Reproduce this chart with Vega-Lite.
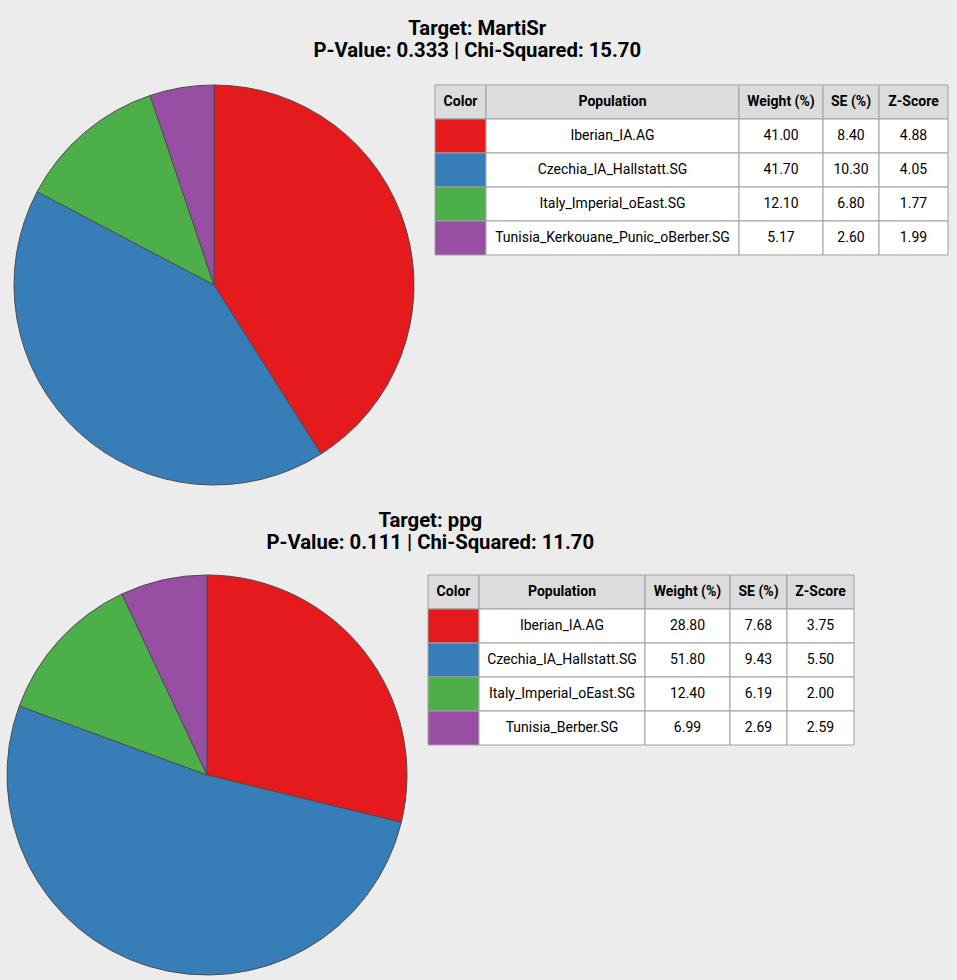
{
  "$schema": "https://vega.github.io/schema/vega-lite/v6.json",
  "background": "#ececec",
  "padding": {"left": 0, "top": 18, "right": 12, "bottom": 6},
  "config": {"view": {"stroke": null}, "font": "Roboto"},
  "datasets": {
    "martisr": [
      {"rank": 1, "population": "Iberian_IA.AG", "weight": 41.0, "se": 8.4, "z": 4.88},
      {"rank": 2, "population": "Czechia_IA_Hallstatt.SG", "weight": 41.7, "se": 10.3, "z": 4.05},
      {"rank": 3, "population": "Italy_Imperial_oEast.SG", "weight": 12.1, "se": 6.8, "z": 1.77},
      {"rank": 4, "population": "Tunisia_Kerkouane_Punic_oBerber.SG", "weight": 5.17, "se": 2.6, "z": 1.99}
    ],
    "ppg": [
      {"rank": 1, "population": "Iberian_IA.AG", "weight": 28.8, "se": 7.68, "z": 3.75},
      {"rank": 2, "population": "Czechia_IA_Hallstatt.SG", "weight": 51.8, "se": 9.43, "z": 5.5},
      {"rank": 3, "population": "Italy_Imperial_oEast.SG", "weight": 12.4, "se": 6.19, "z": 2.0},
      {"rank": 4, "population": "Tunisia_Berber.SG", "weight": 6.99, "se": 2.69, "z": 2.59}
    ]
  },
  "vconcat": [
    {
      "title": {
        "text": ["Target: MartiSr", "P-Value: 0.333 | Chi-Squared: 15.70"],
        "font": "Roboto", "fontSize": 20.3, "fontWeight": "bold", "color": "#000",
        "anchor": "middle", "lineHeight": 22, "offset": 22, "dx": 3
      },
      "spacing": 6,
      "hconcat": [
        {
          "width": 428, "height": 400,
          "data": {"name": "martisr"},
          "mark": {"type": "arc", "stroke": "#4d4d4d", "strokeWidth": 1},
          "encoding": {
            "theta": {"field": "weight", "type": "quantitative", "stack": true},
            "order": {"field": "rank"},
            "color": {
              "field": "population", "type": "nominal", "legend": null,
              "scale": {
                "domain": ["Iberian_IA.AG", "Czechia_IA_Hallstatt.SG", "Italy_Imperial_oEast.SG", "Tunisia_Kerkouane_Punic_oBerber.SG", "Tunisia_Berber.SG"],
                "range": ["#e41a1c", "#377eb8", "#4daf4a", "#984ea3", "#984ea3"]
              }
            }
          }
        },
        {
          "spacing": 0,
          "bounds": "flush",
          "hconcat": [
            {
              "width": 51, "height": 170,
              "data": {"name": "martisr"},
              "encoding": {"y": {"field": "rank", "type": "ordinal", "scale": {"domain": [0, 1, 2, 3, 4], "paddingInner": 0, "paddingOuter": 0}, "axis": null}},
              "layer": [
                {"transform": [{"filter": "datum.rank == 1"}], "mark": {"type": "rect", "fill": "#dcdcdc", "stroke": "#a0a0a0"}, "encoding": {"y": {"datum": 0, "type": "ordinal"}}},
                {"transform": [{"filter": "datum.rank == 1"}], "mark": {"type": "text", "fontSize": 14, "fontWeight": "bold", "color": "#000"}, "encoding": {"y": {"datum": 0, "type": "ordinal"}, "text": {"value": "Color"}}},
                {
                  "mark": {"type": "rect", "stroke": "#a0a0a0"},
                  "encoding": {
                    "fill": {
                      "field": "population", "type": "nominal", "legend": null,
                      "scale": {
                        "domain": ["Iberian_IA.AG", "Czechia_IA_Hallstatt.SG", "Italy_Imperial_oEast.SG", "Tunisia_Kerkouane_Punic_oBerber.SG", "Tunisia_Berber.SG"],
                        "range": ["#e41a1c", "#377eb8", "#4daf4a", "#984ea3", "#984ea3"]
                      }
                    }
                  }
                }
              ]
            },
            {
              "width": 253, "height": 170,
              "data": {"name": "martisr"},
              "encoding": {"y": {"field": "rank", "type": "ordinal", "scale": {"domain": [0, 1, 2, 3, 4], "paddingInner": 0, "paddingOuter": 0}, "axis": null}},
              "layer": [
                {"transform": [{"filter": "datum.rank == 1"}], "mark": {"type": "rect", "fill": "#dcdcdc", "stroke": "#a0a0a0"}, "encoding": {"y": {"datum": 0, "type": "ordinal"}}},
                {"transform": [{"filter": "datum.rank == 1"}], "mark": {"type": "text", "fontSize": 14, "fontWeight": "bold", "color": "#000"}, "encoding": {"y": {"datum": 0, "type": "ordinal"}, "text": {"value": "Population"}}},
                {"mark": {"type": "rect", "fill": "#fff", "stroke": "#a0a0a0"}},
                {"mark": {"type": "text", "fontSize": 14, "color": "#000"}, "encoding": {"text": {"field": "population"}}}
              ]
            },
            {
              "width": 84, "height": 170,
              "data": {"name": "martisr"},
              "encoding": {"y": {"field": "rank", "type": "ordinal", "scale": {"domain": [0, 1, 2, 3, 4], "paddingInner": 0, "paddingOuter": 0}, "axis": null}},
              "layer": [
                {"transform": [{"filter": "datum.rank == 1"}], "mark": {"type": "rect", "fill": "#dcdcdc", "stroke": "#a0a0a0"}, "encoding": {"y": {"datum": 0, "type": "ordinal"}}},
                {"transform": [{"filter": "datum.rank == 1"}], "mark": {"type": "text", "fontSize": 14, "fontWeight": "bold", "color": "#000"}, "encoding": {"y": {"datum": 0, "type": "ordinal"}, "text": {"value": "Weight (%)"}}},
                {"mark": {"type": "rect", "fill": "#fff", "stroke": "#a0a0a0"}},
                {"mark": {"type": "text", "fontSize": 14, "color": "#000"}, "encoding": {"text": {"field": "weight", "type": "quantitative", "format": ".2f"}}}
              ]
            },
            {
              "width": 56, "height": 170,
              "data": {"name": "martisr"},
              "encoding": {"y": {"field": "rank", "type": "ordinal", "scale": {"domain": [0, 1, 2, 3, 4], "paddingInner": 0, "paddingOuter": 0}, "axis": null}},
              "layer": [
                {"transform": [{"filter": "datum.rank == 1"}], "mark": {"type": "rect", "fill": "#dcdcdc", "stroke": "#a0a0a0"}, "encoding": {"y": {"datum": 0, "type": "ordinal"}}},
                {"transform": [{"filter": "datum.rank == 1"}], "mark": {"type": "text", "fontSize": 14, "fontWeight": "bold", "color": "#000"}, "encoding": {"y": {"datum": 0, "type": "ordinal"}, "text": {"value": "SE (%)"}}},
                {"mark": {"type": "rect", "fill": "#fff", "stroke": "#a0a0a0"}},
                {"mark": {"type": "text", "fontSize": 14, "color": "#000"}, "encoding": {"text": {"field": "se", "type": "quantitative", "format": ".2f"}}}
              ]
            },
            {
              "width": 69, "height": 170,
              "data": {"name": "martisr"},
              "encoding": {"y": {"field": "rank", "type": "ordinal", "scale": {"domain": [0, 1, 2, 3, 4], "paddingInner": 0, "paddingOuter": 0}, "axis": null}},
              "layer": [
                {"transform": [{"filter": "datum.rank == 1"}], "mark": {"type": "rect", "fill": "#dcdcdc", "stroke": "#a0a0a0"}, "encoding": {"y": {"datum": 0, "type": "ordinal"}}},
                {"transform": [{"filter": "datum.rank == 1"}], "mark": {"type": "text", "fontSize": 14, "fontWeight": "bold", "color": "#000"}, "encoding": {"y": {"datum": 0, "type": "ordinal"}, "text": {"value": "Z-Score"}}},
                {"mark": {"type": "rect", "fill": "#fff", "stroke": "#a0a0a0"}},
                {"mark": {"type": "text", "fontSize": 14, "color": "#000"}, "encoding": {"text": {"field": "z", "type": "quantitative", "format": ".2f"}}}
              ]
            }
          ]
        }
      ]
    },
    {
      "title": {
        "text": ["Target: ppg", "P-Value: 0.111 | Chi-Squared: 11.70"],
        "font": "Roboto", "fontSize": 20.3, "fontWeight": "bold", "color": "#000",
        "anchor": "middle", "lineHeight": 22, "offset": 20, "dx": 3
      },
      "spacing": 13,
      "hconcat": [
        {
          "width": 414, "height": 400,
          "data": {"name": "ppg"},
          "mark": {"type": "arc", "stroke": "#4d4d4d", "strokeWidth": 1},
          "encoding": {
            "theta": {"field": "weight", "type": "quantitative", "stack": true},
            "order": {"field": "rank"},
            "color": {
              "field": "population", "type": "nominal", "legend": null,
              "scale": {
                "domain": ["Iberian_IA.AG", "Czechia_IA_Hallstatt.SG", "Italy_Imperial_oEast.SG", "Tunisia_Kerkouane_Punic_oBerber.SG", "Tunisia_Berber.SG"],
                "range": ["#e41a1c", "#377eb8", "#4daf4a", "#984ea3", "#984ea3"]
              }
            }
          }
        },
        {
          "spacing": 0,
          "bounds": "flush",
          "hconcat": [
            {
              "width": 51, "height": 170,
              "data": {"name": "ppg"},
              "encoding": {"y": {"field": "rank", "type": "ordinal", "scale": {"domain": [0, 1, 2, 3, 4], "paddingInner": 0, "paddingOuter": 0}, "axis": null}},
              "layer": [
                {"transform": [{"filter": "datum.rank == 1"}], "mark": {"type": "rect", "fill": "#dcdcdc", "stroke": "#a0a0a0"}, "encoding": {"y": {"datum": 0, "type": "ordinal"}}},
                {"transform": [{"filter": "datum.rank == 1"}], "mark": {"type": "text", "fontSize": 14, "fontWeight": "bold", "color": "#000"}, "encoding": {"y": {"datum": 0, "type": "ordinal"}, "text": {"value": "Color"}}},
                {
                  "mark": {"type": "rect", "stroke": "#a0a0a0"},
                  "encoding": {
                    "fill": {
                      "field": "population", "type": "nominal", "legend": null,
                      "scale": {
                        "domain": ["Iberian_IA.AG", "Czechia_IA_Hallstatt.SG", "Italy_Imperial_oEast.SG", "Tunisia_Kerkouane_Punic_oBerber.SG", "Tunisia_Berber.SG"],
                        "range": ["#e41a1c", "#377eb8", "#4daf4a", "#984ea3", "#984ea3"]
                      }
                    }
                  }
                }
              ]
            },
            {
              "width": 166, "height": 170,
              "data": {"name": "ppg"},
              "encoding": {"y": {"field": "rank", "type": "ordinal", "scale": {"domain": [0, 1, 2, 3, 4], "paddingInner": 0, "paddingOuter": 0}, "axis": null}},
              "layer": [
                {"transform": [{"filter": "datum.rank == 1"}], "mark": {"type": "rect", "fill": "#dcdcdc", "stroke": "#a0a0a0"}, "encoding": {"y": {"datum": 0, "type": "ordinal"}}},
                {"transform": [{"filter": "datum.rank == 1"}], "mark": {"type": "text", "fontSize": 14, "fontWeight": "bold", "color": "#000"}, "encoding": {"y": {"datum": 0, "type": "ordinal"}, "text": {"value": "Population"}}},
                {"mark": {"type": "rect", "fill": "#fff", "stroke": "#a0a0a0"}},
                {"mark": {"type": "text", "fontSize": 14, "color": "#000"}, "encoding": {"text": {"field": "population"}}}
              ]
            },
            {
              "width": 85, "height": 170,
              "data": {"name": "ppg"},
              "encoding": {"y": {"field": "rank", "type": "ordinal", "scale": {"domain": [0, 1, 2, 3, 4], "paddingInner": 0, "paddingOuter": 0}, "axis": null}},
              "layer": [
                {"transform": [{"filter": "datum.rank == 1"}], "mark": {"type": "rect", "fill": "#dcdcdc", "stroke": "#a0a0a0"}, "encoding": {"y": {"datum": 0, "type": "ordinal"}}},
                {"transform": [{"filter": "datum.rank == 1"}], "mark": {"type": "text", "fontSize": 14, "fontWeight": "bold", "color": "#000"}, "encoding": {"y": {"datum": 0, "type": "ordinal"}, "text": {"value": "Weight (%)"}}},
                {"mark": {"type": "rect", "fill": "#fff", "stroke": "#a0a0a0"}},
                {"mark": {"type": "text", "fontSize": 14, "color": "#000"}, "encoding": {"text": {"field": "weight", "type": "quantitative", "format": ".2f"}}}
              ]
            },
            {
              "width": 57, "height": 170,
              "data": {"name": "ppg"},
              "encoding": {"y": {"field": "rank", "type": "ordinal", "scale": {"domain": [0, 1, 2, 3, 4], "paddingInner": 0, "paddingOuter": 0}, "axis": null}},
              "layer": [
                {"transform": [{"filter": "datum.rank == 1"}], "mark": {"type": "rect", "fill": "#dcdcdc", "stroke": "#a0a0a0"}, "encoding": {"y": {"datum": 0, "type": "ordinal"}}},
                {"transform": [{"filter": "datum.rank == 1"}], "mark": {"type": "text", "fontSize": 14, "fontWeight": "bold", "color": "#000"}, "encoding": {"y": {"datum": 0, "type": "ordinal"}, "text": {"value": "SE (%)"}}},
                {"mark": {"type": "rect", "fill": "#fff", "stroke": "#a0a0a0"}},
                {"mark": {"type": "text", "fontSize": 14, "color": "#000"}, "encoding": {"text": {"field": "se", "type": "quantitative", "format": ".2f"}}}
              ]
            },
            {
              "width": 67, "height": 170,
              "data": {"name": "ppg"},
              "encoding": {"y": {"field": "rank", "type": "ordinal", "scale": {"domain": [0, 1, 2, 3, 4], "paddingInner": 0, "paddingOuter": 0}, "axis": null}},
              "layer": [
                {"transform": [{"filter": "datum.rank == 1"}], "mark": {"type": "rect", "fill": "#dcdcdc", "stroke": "#a0a0a0"}, "encoding": {"y": {"datum": 0, "type": "ordinal"}}},
                {"transform": [{"filter": "datum.rank == 1"}], "mark": {"type": "text", "fontSize": 14, "fontWeight": "bold", "color": "#000"}, "encoding": {"y": {"datum": 0, "type": "ordinal"}, "text": {"value": "Z-Score"}}},
                {"mark": {"type": "rect", "fill": "#fff", "stroke": "#a0a0a0"}},
                {"mark": {"type": "text", "fontSize": 14, "color": "#000"}, "encoding": {"text": {"field": "z", "type": "quantitative", "format": ".2f"}}}
              ]
            }
          ]
        }
      ]
    }
  ],
  "spacing": 23
}
